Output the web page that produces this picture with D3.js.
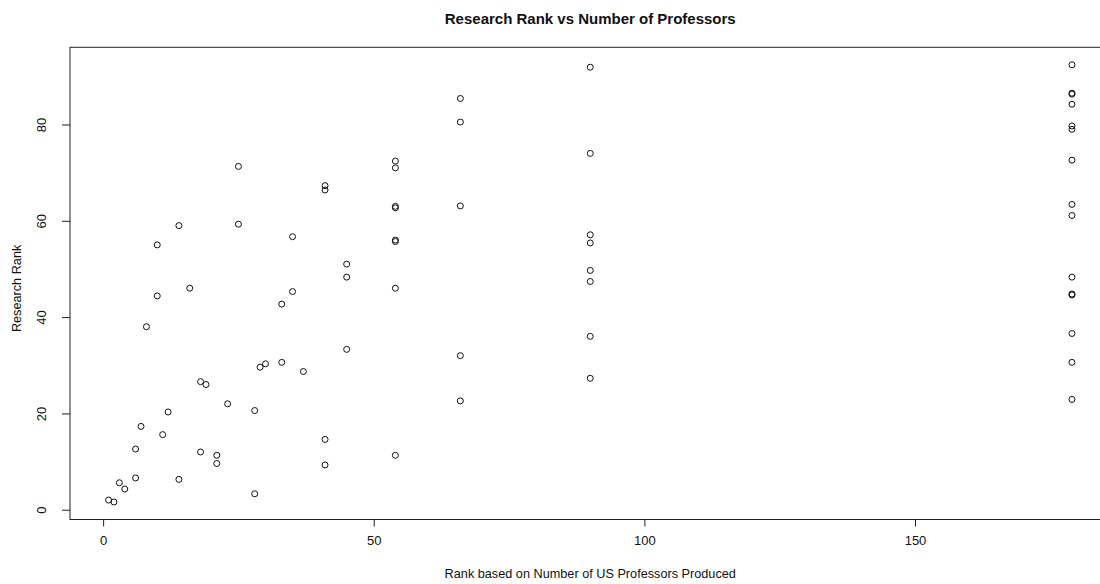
<!DOCTYPE html>
<html lang="en">
<head>
    <meta charset="UTF-8">
    <title>Research Rank vs Number of Professors</title>
    <script src="https://d3js.org/d3.v7.min.js"></script>
    <style>
        body{
            padding:0;
            margin:0;
            background:#fff;
        }
        #grafico{
            display:block;
            font-family:"Liberation Sans", Arial, sans-serif;
        }
    </style>
</head>
<body>

<svg id="grafico"></svg>

<script>
    // rank by number of US professors produced (x) and research rank (y)
    let profRank = [1, 2, 3, 4, 6, 6, 7, 8, 10, 10, 11, 12, 14, 14, 16, 18, 18, 19, 21, 21, 23, 25, 25, 28, 28, 29, 30, 33, 33, 35, 35, 37,
        41, 41, 41, 41, 45, 45, 45,
        54, 54, 54, 54, 54, 54, 54, 54,
        66, 66, 66, 66, 66,
        90, 90, 90, 90, 90, 90, 90, 90,
        179, 179, 179, 179, 179, 179, 179, 179, 179, 179, 179, 179, 179, 179, 179]
    let researchRank = [2.0, 1.6, 5.6, 4.3, 6.6, 12.6, 17.3, 38.0, 55.0, 44.4, 15.6, 20.3, 59.0, 6.3, 46.0, 26.6, 12.0, 26.0, 11.3, 9.6, 22.0, 71.3, 59.3, 20.6, 3.3, 29.6, 30.3, 30.6, 42.7, 45.3, 56.7, 28.7,
        67.3, 66.4, 14.6, 9.3, 51.0, 48.3, 33.3,
        72.4, 71.0, 63.0, 62.7, 56.0, 55.7, 46.0, 11.3,
        85.4, 80.5, 63.1, 32.0, 22.6,
        91.9, 74.0, 57.1, 55.4, 49.7, 47.4, 36.0, 27.3,
        92.4, 86.5, 86.3, 84.2, 79.7, 79.0, 72.6, 63.4, 61.1, 48.3, 44.8, 44.6, 36.6, 30.6, 22.9]
    let xTicks = [0, 50, 100, 150]
    let yTicks = [0, 20, 40, 60, 80]

    let titulo = "Research Rank vs Number of Professors"
    let etiquetaX = "Rank based on Number of US Professors Produced"
    let etiquetaY = "Research Rank"

    let svgw = 1100
    let svgh = 584
    let izq = 70, der = 1110.5, sup = 47.3, inf = 519.5

    let datos = profRank.map((p, i) => ({x: p, y: researchRank[i]}))

    // R style: range widened by 4% on each side
    function ampliar(ext) {
        let r = ext[1] - ext[0]
        return [ext[0] - 0.04 * r, ext[1] + 0.04 * r]
    }

    let escalaX = d3.scaleLinear()
        .domain(ampliar(d3.extent(profRank)))
        .range([izq, der])
    let escalaY = d3.scaleLinear()
        .domain(ampliar(d3.extent(researchRank)))
        .range([inf, sup])

    let svg = d3.select("#grafico")
        .attr("width", svgw)
        .attr("height", svgh)

    svg.append("rect")
        .attr("width", svgw)
        .attr("height", svgh)
        .attr("fill", "#fff")

    // box
    svg.append("rect")
        .attr("x", izq)
        .attr("y", sup)
        .attr("width", der - izq)
        .attr("height", inf - sup)
        .attr("fill", "none")
        .attr("stroke", "#222")
        .attr("stroke-width", 1)

    let ejeX = svg.append("g")
        .attr("transform", `translate(0,${inf})`)
        .call(d3.axisBottom(escalaX).tickValues(xTicks).tickSize(7).tickPadding(9))
    ejeX.select(".domain").remove()
    ejeX.selectAll(".tick line").attr("stroke", "#222")
    ejeX.selectAll(".tick text")
        .attr("font-size", 13)
        .attr("fill", "#111")
        .attr("font-family", "Liberation Sans, Arial, sans-serif")

    let ejeY = svg.append("g")
        .attr("transform", `translate(${izq},0)`)
        .call(d3.axisLeft(escalaY).tickValues(yTicks).tickSize(8))
    ejeY.select(".domain").remove()
    ejeY.selectAll(".tick line").attr("stroke", "#222")
    ejeY.selectAll(".tick text")
        .attr("x", null)
        .attr("dy", null)
        .attr("transform", `translate(${41 - izq},0) rotate(-90)`)
        .attr("text-anchor", "middle")
        .attr("dominant-baseline", "central")
        .attr("font-size", 13)
        .attr("fill", "#111")
        .attr("font-family", "Liberation Sans, Arial, sans-serif")

    svg.append("g")
        .selectAll("circle")
        .data(datos)
        .enter().append("circle")
        .attr("cx", d => escalaX(d.x))
        .attr("cy", d => escalaY(d.y))
        .attr("r", 3)
        .attr("fill", "none")
        .attr("stroke", "#111")
        .attr("stroke-width", 1)

    svg.append("text")
        .attr("x", (izq + der) / 2)
        .attr("y", 18)
        .attr("text-anchor", "middle")
        .attr("dominant-baseline", "central")
        .attr("font-size", 15)
        .attr("font-weight", "bold")
        .attr("fill", "#111")
        .text(titulo)

    svg.append("text")
        .attr("x", (izq + der) / 2)
        .attr("y", 574)
        .attr("text-anchor", "middle")
        .attr("dominant-baseline", "central")
        .attr("font-size", 12.7)
        .attr("fill", "#111")
        .text(etiquetaX)

    svg.append("text")
        .attr("transform", `translate(17,${(sup + inf) / 2 + 5}) rotate(-90)`)
        .attr("text-anchor", "middle")
        .attr("dominant-baseline", "central")
        .attr("font-size", 12.7)
        .attr("fill", "#111")
        .text(etiquetaY)
</script>

</body>
</html>
